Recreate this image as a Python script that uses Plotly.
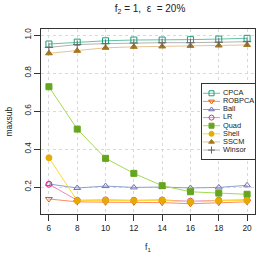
import plotly.graph_objects as go

f1 = [6, 8, 10, 12, 14, 16, 18, 20]
names = ["CPCA", "ROBPCA", "Ball", "LR", "Quad", "Shell", "SSCM", "Winsor"]
cpca = [0.953, 0.963, 0.970, 0.974, 0.974, 0.976, 0.979, 0.983]
robpca = [0.137, 0.122, 0.120, 0.120, 0.118, 0.112, 0.118, 0.122]
ball = [0.216, 0.195, 0.205, 0.198, 0.200, 0.195, 0.198, 0.209]
lr = [0.215, 0.130, 0.132, 0.130, 0.132, 0.125, 0.130, 0.132]
quad = [0.728, 0.505, 0.351, 0.272, 0.207, 0.175, 0.168, 0.162]
shell = [0.354, 0.128, 0.130, 0.128, 0.130, 0.122, 0.128, 0.130]
sscm = [0.904, 0.917, 0.933, 0.938, 0.940, 0.943, 0.945, 0.948]
winsor = [0.935, 0.950, 0.955, 0.958, 0.960, 0.960, 0.962, 0.965]
series = [cpca, robpca, ball, lr, quad, shell, sscm, winsor]
y_ticks = [0.2, 0.4, 0.6, 0.8, 1.0]

line_cols = ["#66C2A5", "#FC8D62", "#8DA0CB", "#E78AC3", "#A6D854", "#FFD92F", "#E5C494", "#B3B3B3"]
mark_cols = ["#1B9E77", "#D95F02", "#7570B3", "#E7298A", "#66A61E", "#E6AB02", "#A6761D", "#666666"]
symbols = ["square-open", "triangle-down-open", "triangle-up-open", "circle-open",
           "square", "circle", "triangle-up", "cross-thin-open"]

FONT = "Liberation Sans, Arial, sans-serif"
DARK = "#333333"

fig = go.Figure()
for n, ys, lc, mc, s in zip(names, series, line_cols, mark_cols, symbols):
    fig.add_trace(go.Scatter(
        x=f1, y=ys, name=n, mode="lines+markers", showlegend=False,
        line=dict(color=lc, width=1),
        marker=dict(color=mc, symbol=s, size=6, line=dict(color=mc, width=1)),
        xaxis="x", yaxis="y",
    ))

# hand-built legend in its own small subplot
for i, (n, lc, mc, s) in enumerate(zip(names, line_cols, mark_cols, symbols)):
    fig.add_trace(go.Scatter(
        x=[0, 1, 2], y=[i, i, i], mode="lines", showlegend=False,
        line=dict(color=lc, width=1), xaxis="x2", yaxis="y2", hoverinfo="skip",
    ))
    fig.add_trace(go.Scatter(
        x=[1], y=[i], mode="markers", showlegend=False,
        marker=dict(color=mc, symbol=s, size=5, line=dict(color=mc, width=1)),
        xaxis="x2", yaxis="y2", hoverinfo="skip",
    ))
    fig.add_trace(go.Scatter(
        x=[2.35], y=[i], mode="text", showlegend=False,
        text=[n], textposition="middle right",
        textfont=dict(size=7.4, color="#222222", family=FONT),
        xaxis="x2", yaxis="y2", hoverinfo="skip",
    ))

axis_common = dict(
    showline=True, mirror=True, linecolor=DARK, linewidth=1,
    ticks="outside", ticklen=6, tickcolor=DARK, tickwidth=1,
    showgrid=True, gridcolor="#d9d9d9", griddash="dot", gridwidth=1,
    zeroline=False, tickfont=dict(size=8.3, color="#222222"),
)

fig.update_layout(
    width=258, height=255,
    margin=dict(l=41, r=3, t=29, b=41, autoexpand=False),
    paper_bgcolor="white", plot_bgcolor="white",
    font=dict(family=FONT, color="#222222"),
    hovermode=False,
    title=dict(text="f<sub>2</sub> = 1,\u00a0 \u03b5 \u00a0= 20%", x=150 / 258, xanchor="center",
               xref="container", y=1 - 8 / 255, yanchor="middle", font=dict(size=10)),
    xaxis=dict(domain=[0, 1], range=[5.44, 20.56], tickvals=f1, ticktext=[str(v) for v in f1],
               anchor="y", **axis_common),
    yaxis=dict(domain=[0, 1], range=[0.058, 1.032], tickvals=y_ticks,
               ticktext=[f"{v:.1f}" for v in y_ticks], tickangle=-90,
               anchor="x", **axis_common),
    xaxis2=dict(domain=[0.751, 1.0], range=[-0.153, 6.12], anchor="y2",
                showline=True, mirror=True, linecolor=DARK, linewidth=1,
                showgrid=False, zeroline=False, showticklabels=False, ticks=""),
    yaxis2=dict(domain=[0.297, 0.703], range=[8.11, -1.15], anchor="x2",
                showline=True, mirror=True, linecolor=DARK, linewidth=1,
                showgrid=False, zeroline=False, showticklabels=False, ticks=""),
    annotations=[
        dict(text="f<sub>1</sub>", xref="paper", yref="paper", x=0.5, y=-33 / 185,
             xanchor="center", yanchor="middle", showarrow=False, font=dict(size=8.5)),
        dict(text="maxsub", xref="paper", yref="paper", x=-33 / 214, y=0.5,
             xanchor="center", yanchor="middle", textangle=-90, showarrow=False,
             font=dict(size=8.5)),
    ],
    showlegend=False,
)

fig.write_html("out.html", config={"displayModeBar": False, "staticPlot": True},
               post_script="document.body.style.margin='0px';document.body.style.overflow='hidden';")
